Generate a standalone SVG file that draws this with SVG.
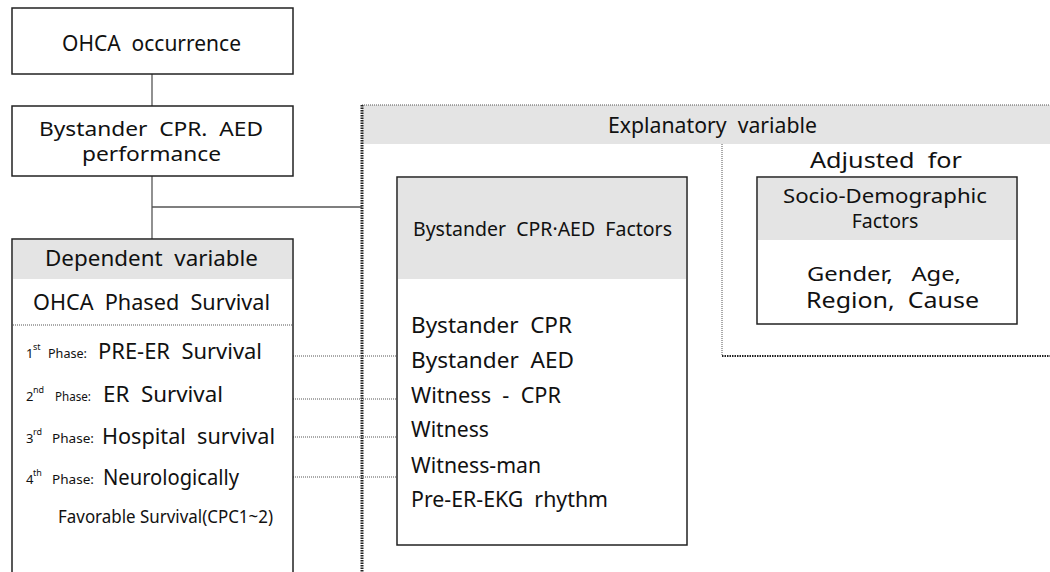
<svg xmlns="http://www.w3.org/2000/svg" width="1050" height="572" viewBox="0 0 1050 572">
<style>
text{font-family:"Noto Sans","Open Sans","Liberation Sans",sans-serif;fill:#111;white-space:pre;}
.box{fill:#fff;stroke:#222;stroke-width:1.5;}
.gray{fill:#e4e4e4;}
.solid{stroke:#555;stroke-width:1.3;fill:none;}
.dot{stroke:#555;stroke-width:1;stroke-dasharray:1 1;fill:none;}
.thick{stroke:#222;stroke-width:3;stroke-dasharray:1.5 1;fill:none;}
.mid{stroke:#222;stroke-width:2;stroke-dasharray:1.5 1;fill:none;}
.t22{font-size:21px;}
.t20{font-size:19.5px;}
.big{font-size:22px;}
.ph{font-size:13px;}
.sup{font-size:9px;}
</style>
<g id="explanatory-frame">
<rect x="362" y="105" width="688" height="39" class="gray"/>
<line x1="362" y1="105" x2="1050" y2="105" class="dot"/>
<line x1="362" y1="105" x2="362" y2="572" class="thick"/>
<line x1="722" y1="144" x2="722" y2="356" class="dot"/>
<line x1="722" y1="356" x2="1050" y2="356" class="mid"/>
<text x="608" y="133" class="t22" textLength="209" lengthAdjust="spacingAndGlyphs">Explanatory  variable</text>
<text x="810" y="168" class="t22" textLength="152" lengthAdjust="spacingAndGlyphs">Adjusted  for</text>
</g>
<g id="connectors">
<line x1="152" y1="74" x2="152" y2="106" class="solid"/>
<line x1="152" y1="176" x2="152" y2="239" class="solid"/>
<line x1="152" y1="207" x2="362" y2="207" class="solid"/>
<line x1="293" y1="356" x2="397" y2="356" class="dot"/>
<line x1="293" y1="399" x2="397" y2="399" class="dot"/>
<line x1="293" y1="437" x2="397" y2="437" class="dot"/>
<line x1="293" y1="477" x2="397" y2="477" class="dot"/>
</g>
<g id="ohca-occurrence">
<rect x="12" y="8" width="281" height="66" class="box"/>
<text x="62" y="51" class="t22" textLength="179" lengthAdjust="spacingAndGlyphs">OHCA  occurrence</text>
</g>
<g id="bystander-performance">
<rect x="12" y="106" width="281" height="70" class="box"/>
<text x="39" y="136" class="t20" textLength="224" lengthAdjust="spacingAndGlyphs">Bystander  CPR.  AED</text>
<text x="82" y="161" class="t20" textLength="139" lengthAdjust="spacingAndGlyphs">performance</text>
</g>
<g id="dependent-variable">
<rect x="12" y="239" width="281" height="345" class="box"/>
<rect x="13" y="240" width="279" height="39" class="gray"/>
<text x="45" y="266" class="t22" textLength="213" lengthAdjust="spacingAndGlyphs">Dependent  variable</text>
<text x="33" y="310" class="t22" textLength="237" lengthAdjust="spacingAndGlyphs">OHCA  Phased  Survival</text>
<line x1="13" y1="325" x2="292" y2="325" class="dot"/>
<text x="26" y="358" class="ph">1</text><text x="33" y="350" class="sup">st</text>
<text x="48" y="358" class="ph" textLength="39" lengthAdjust="spacingAndGlyphs">Phase:</text>
<text x="98" y="359" class="big" textLength="164" lengthAdjust="spacingAndGlyphs">PRE-ER  Survival</text>
<text x="26" y="401" class="ph">2</text><text x="33" y="393" class="sup">nd</text>
<text x="55" y="401" class="ph" textLength="36" lengthAdjust="spacingAndGlyphs">Phase:</text>
<text x="103" y="402" class="big" textLength="120" lengthAdjust="spacingAndGlyphs">ER  Survival</text>
<text x="26" y="443" class="ph">3</text><text x="33" y="435" class="sup">rd</text>
<text x="52" y="443" class="ph" textLength="42" lengthAdjust="spacingAndGlyphs">Phase:</text>
<text x="102" y="444" class="big" textLength="173" lengthAdjust="spacingAndGlyphs">Hospital  survival</text>
<text x="26" y="484" class="ph">4</text><text x="33" y="476" class="sup">th</text>
<text x="52" y="484" class="ph" textLength="42" lengthAdjust="spacingAndGlyphs">Phase:</text>
<text x="103" y="485" class="big" textLength="136" lengthAdjust="spacingAndGlyphs">Neurologically</text>
<text x="58" y="523" style="font-size:18px" textLength="215" lengthAdjust="spacingAndGlyphs">Favorable Survival(CPC1~2)</text>
</g>
<g id="bystander-factors">
<rect x="397" y="177" width="290" height="368" class="box"/>
<rect x="398" y="178" width="288" height="101" class="gray"/>
<text x="413" y="236" style="font-size:20px" textLength="259" lengthAdjust="spacingAndGlyphs">Bystander  CPR·AED  Factors</text>
<text x="411" y="333" class="t22" textLength="161" lengthAdjust="spacingAndGlyphs">Bystander  CPR</text>
<text x="411" y="368" class="t22" textLength="163" lengthAdjust="spacingAndGlyphs">Bystander  AED</text>
<text x="411" y="403" class="t22" textLength="150" lengthAdjust="spacingAndGlyphs">Witness  -  CPR</text>
<text x="411" y="437" class="t22" textLength="78" lengthAdjust="spacingAndGlyphs">Witness</text>
<text x="411" y="473" class="t22" textLength="130" lengthAdjust="spacingAndGlyphs">Witness-man</text>
<text x="411" y="507" class="t22" textLength="197" lengthAdjust="spacingAndGlyphs">Pre-ER-EKG  rhythm</text>
</g>
<g id="socio-demographic">
<rect x="757" y="177" width="260" height="147" class="box"/>
<rect x="758" y="178" width="258" height="62" class="gray"/>
<text x="783" y="203" class="t20" textLength="204" lengthAdjust="spacingAndGlyphs">Socio-Demographic</text>
<text x="885" y="228" class="t20" text-anchor="middle">Factors</text>
<text x="807" y="281" class="t20" textLength="154" lengthAdjust="spacingAndGlyphs">Gender,   Age,</text>
<text x="806" y="308" class="big" textLength="173" lengthAdjust="spacingAndGlyphs">Region,  Cause</text>
</g>
</svg>
